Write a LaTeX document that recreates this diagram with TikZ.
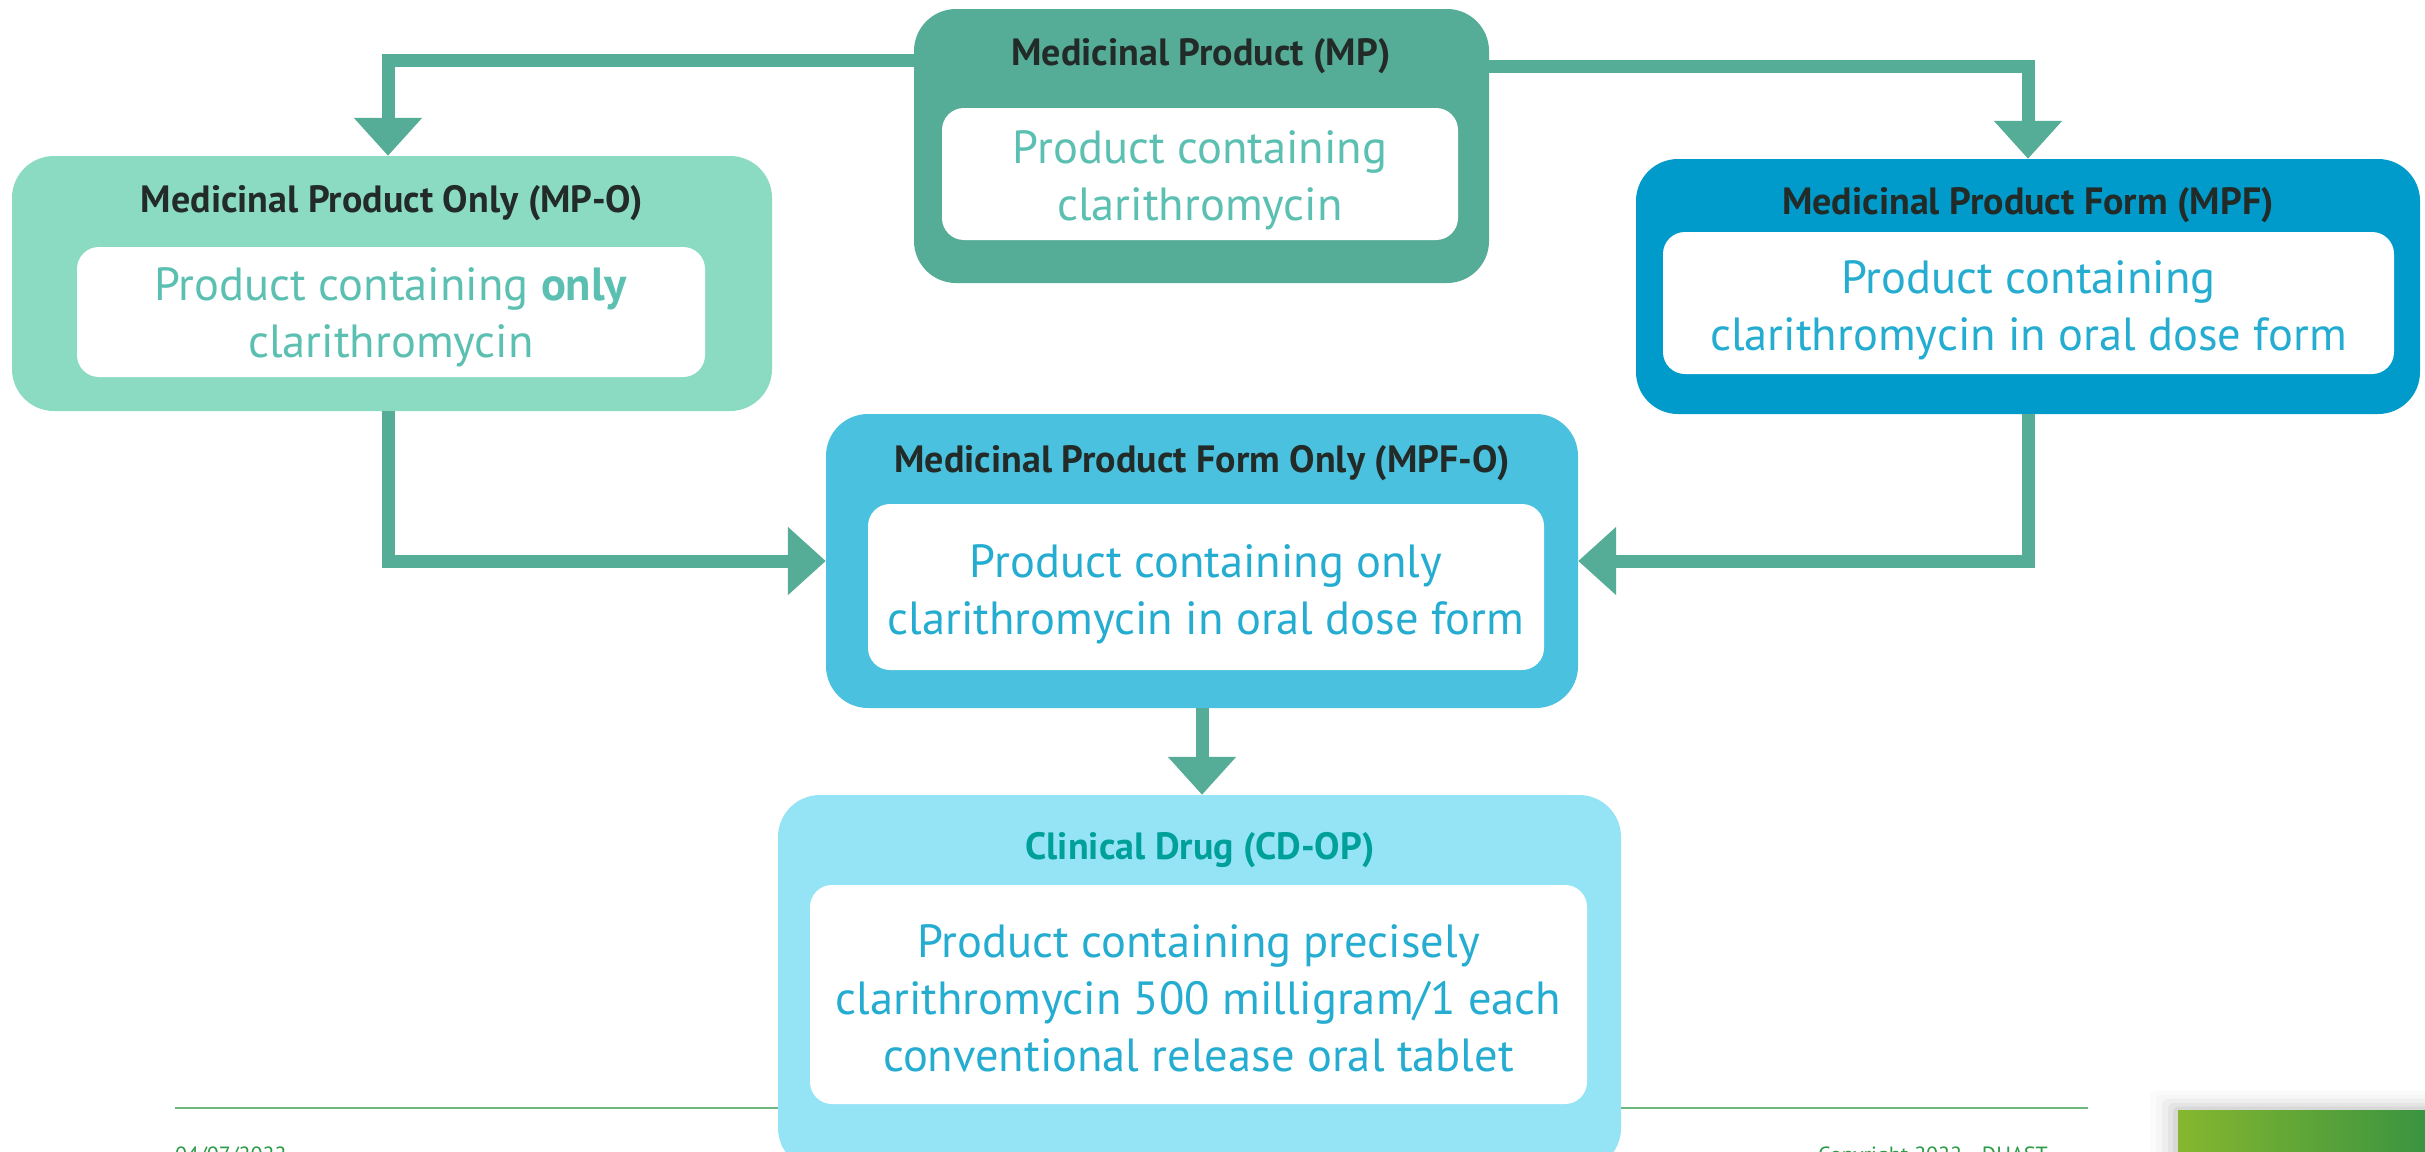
\documentclass[tikz,border=0pt]{standalone}
\usepackage{fontspec}
\setmainfont{PT Sans}
\usetikzlibrary{arrows.meta}
\definecolor{arrowc}{HTML}{56AD97}
\definecolor{mpfill}{HTML}{55AD97}
\definecolor{mpofill}{HTML}{8BDBC3}
\definecolor{mpffill}{HTML}{009BCB}
\definecolor{mpfofill}{HTML}{4AC1DF}
\definecolor{cdfill}{HTML}{94E4F6}
\definecolor{titlec}{HTML}{222B27}
\definecolor{cdtitlec}{HTML}{00A09A}
\definecolor{greentext}{HTML}{5BC0B1}
\definecolor{bluetext}{HTML}{24ACD1}
\definecolor{footline}{HTML}{6DB77E}
\definecolor{foottext}{HTML}{2E9B48}
\definecolor{gradl}{HTML}{86B72F}
\definecolor{gradr}{HTML}{3A9440}
\begin{document}
\begin{tikzpicture}[x=1pt,y=-1pt,
  outerbox/.style={rounded corners=42pt, inner sep=0pt, draw=none},
  innerbox/.style={rounded corners=22pt, inner sep=0pt, fill=white},
  bodytext/.style={inner sep=0pt, align=center, font=\fontsize{46.5}{57}\selectfont},
  titlebox/.style={inner sep=0pt, font=\fontsize{38}{44}\selectfont\bfseries, text=titlec},
  conn/.style={draw=arrowc, line width=13pt, -{Triangle[width=66pt,length=38pt]}},
  foot/.style={inner sep=0pt, anchor=base west, font=\fontsize{22}{26}\selectfont, text=foottext}
]
\useasboundingbox (0,0) rectangle (2425,1151);
\fill[white] (0,0) rectangle (2425,1151);

% footer
\coordinate (fl1) at (175,1108);
\coordinate (fl2) at (2088,1108);
\draw[footline, line width=2.5pt] (fl1) -- (fl2);
\node[foot] (date) at (175,1162) {04/07/2022};
\node[foot] (copy) at (1818,1162) {Copyright 2022 - DHAST};
% green block with shadow
\foreach \d/\o in {28/0.015,22/0.02,16/0.03,10/0.04,5/0.05}{
  \fill[black, opacity=\o, rounded corners=6pt] (2178-\d,1110-\d*0.7) rectangle (2440,1170);
}
\shade[left color=gradl, right color=gradr] (2178,1110) rectangle (2425,1151);

% MP
\node[outerbox, fill=mpfill, minimum width=575, minimum height=274] (mp) at (1201.5,146) {};
\node[titlebox] (mpt) at (1201,56) {Medicinal Product (MP)};
\node[innerbox, minimum width=516, minimum height=132] (mpi) at (1200,174) {};
\node[bodytext, text=greentext] (mpx) at (1200,180) {Product containing\\clarithromycin};

% MP-O
\node[outerbox, fill=mpofill, minimum width=760, minimum height=255] (mpo) at (392,283.5) {};
\node[titlebox] (mpot) at (392,203) {Medicinal Product Only (MP-O)};
\node[innerbox, minimum width=628, minimum height=130] (mpoi) at (391,312) {};
\node[bodytext, text=greentext] (mpox) at (391,317) {Product containing \textbf{only}\\clarithromycin};

% MPF
\node[outerbox, fill=mpffill, minimum width=784, minimum height=255] (mpf) at (2028,286.5) {};
\node[titlebox] (mpft) at (2028,205) {Medicinal Product Form (MPF)};
\node[innerbox, minimum width=731, minimum height=142] (mpfi) at (2028.5,303) {};
\node[bodytext, text=bluetext] (mpfx) at (2028.5,310) {Product containing\\clarithromycin in oral dose form};

% MPF-O
\node[outerbox, fill=mpfofill, minimum width=752, minimum height=294] (mpfo) at (1202,561) {};
\node[titlebox] (mpfot) at (1202,463) {Medicinal Product Form Only (MPF-O)};
\node[innerbox, minimum width=676, minimum height=166] (mpfoi) at (1206,587) {};
\node[bodytext, text=bluetext] (mpfox) at (1206,594) {Product containing only\\clarithromycin in oral dose form};

% CD
\node[outerbox, fill=cdfill, minimum width=843, minimum height=375] (cd) at (1199.5,982.5) {};
\node[titlebox, text=cdtitlec] (cdt) at (1200,850) {Clinical Drug (CD-OP)};
\node[innerbox, minimum width=777, minimum height=219] (cdi) at (1198.5,994.5) {};
\node[bodytext, text=bluetext] (cdx) at (1198.5,998) {Product containing precisely\\clarithromycin 500 milligram/1 each\\conventional release oral tablet};

% connectors
\draw[conn] (mp.west |- 0,60) -| (mpo.north -| 388,0);
\draw[conn] (mp.east |- 0,66) -| (mpf.north);
\draw[conn] (mpo.south -| 388,0) |- (mpfo.west);
\draw[conn] (mpf.south) |- (mpfo.east);
\draw[conn] (mpfo.south) -- (mpfo.south |- cd.north);
\end{tikzpicture}
\end{document}
